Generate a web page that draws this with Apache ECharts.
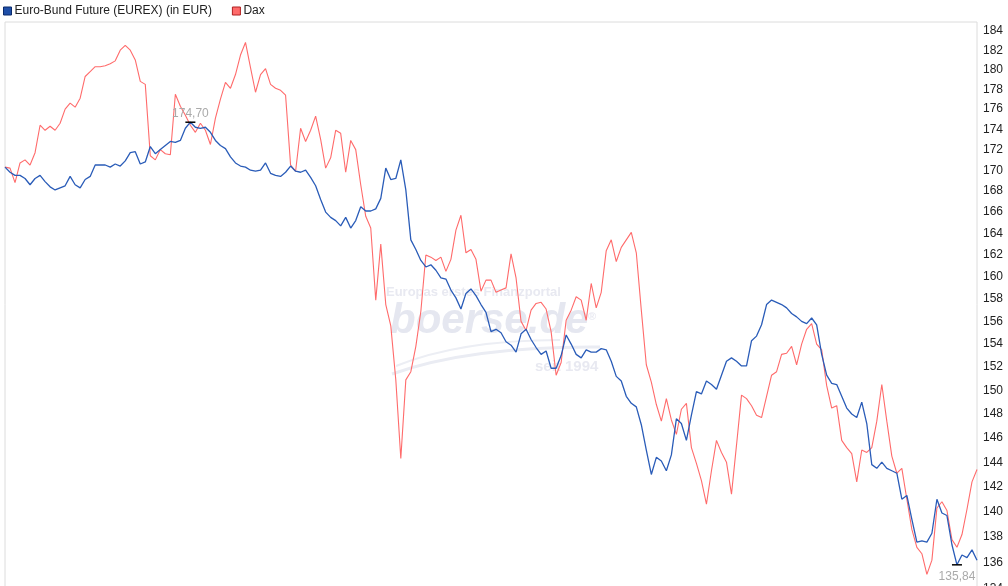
<!DOCTYPE html>
<html><head><meta charset="utf-8">
<script src="https://cdn.jsdelivr.net/npm/echarts@6/dist/echarts.min.js"></script>
<style>html,body{margin:0;padding:0;background:#fff}#c{width:1008px;height:586px}</style>
</head><body><div id="c"></div>
<script>
const bundValues = [
170.3,169.8,169.5,169.5,169.2,168.6,169.2,169.5,168.9,168.4,
168.1,168.3,168.5,169.4,168.6,168.3,169.1,169.4,170.5,170.5,
170.5,170.3,170.6,170.4,170.9,171.7,171.8,170.6,170.8,172.3,
171.6,172.0,172.4,172.8,172.7,172.9,174.1,174.70,174.2,174.1,
174.2,173.7,172.9,172.4,172.1,171.3,170.7,170.4,170.3,170.0,
169.9,170.0,170.7,169.7,169.5,169.4,169.8,170.4,169.9,169.8,
170.0,169.3,168.5,167.2,166.0,165.5,165.2,164.7,165.5,164.5,
165.2,166.5,166.1,166.1,166.3,167.3,170.2,169.1,169.2,171.0,
168.1,163.4,162.5,161.5,160.9,161.1,160.6,159.9,159.8,158.8,
158.1,157.1,158.5,158.9,158.3,157.5,156.8,155.1,155.3,155.0,
154.2,153.9,153.3,154.9,155.3,154.4,153.7,153.1,153.4,151.9,
151.9,153.0,154.8,154.0,153.1,152.8,153.5,153.3,153.3,153.6,
153.5,152.5,151.2,150.8,149.5,148.9,148.6,147.1,145.0,143.0,
144.4,144.1,143.3,144.6,147.6,147.2,145.8,147.9,149.9,149.7,
150.8,150.5,150.1,151.3,152.5,152.8,152.5,152.1,152.1,154.3,
154.7,155.7,157.5,157.9,157.7,157.5,157.2,156.7,156.4,156.0,
155.8,156.3,155.7,153.1,151.3,150.6,150.5,149.5,148.5,148.0,
147.7,149.0,147.2,143.8,143.5,144.0,143.5,143.3,143.1,141.0,
141.3,139.4,137.6,137.7,137.6,138.3,141.0,139.9,139.7,137.4,
135.84,136.6,136.4,137.0,136.2
];
const daxValues = [
170.3,170.2,168.8,170.7,171.0,170.5,171.7,174.4,173.9,174.3,
173.9,174.6,176.0,176.6,176.2,177.1,179.3,179.8,180.3,180.3,
180.4,180.6,180.9,182.0,182.5,182.0,181.0,178.8,178.5,171.4,
171.0,172.0,171.6,171.5,177.5,176.3,175.4,174.4,173.7,174.6,
173.9,172.5,175.1,177.0,178.7,178.1,179.5,181.5,182.8,180.2,
177.7,179.5,180.1,178.5,178.1,177.9,177.4,170.5,169.9,174.1,
172.8,173.9,175.3,173.0,170.2,171.2,173.9,173.6,169.8,172.9,
172.0,168.6,165.6,164.5,157.9,163.0,157.5,155.6,150.9,144.3,
150.9,151.6,153.8,156.9,162.0,161.8,161.5,161.8,160.5,161.6,
164.3,165.7,162.2,162.5,161.6,158.7,159.7,159.7,158.6,158.8,
159.0,162.1,159.9,156.0,155.2,157.0,157.6,157.7,157.1,155.1,
151.3,152.4,156.1,157.0,158.2,157.9,156.1,159.4,157.2,158.6,
162.4,163.4,161.4,162.7,163.4,164.1,162.2,157.0,152.2,150.7,
148.8,147.4,149.3,147.5,146.3,148.4,148.9,145.2,143.9,142.5,
140.6,143.3,145.8,144.8,144.0,141.4,145.4,149.6,149.3,148.7,
147.9,147.7,149.5,151.3,151.6,153.1,153.2,153.8,152.2,154.0,
155.3,155.8,154.0,153.5,150.4,148.5,148.7,145.8,145.2,144.7,
142.4,145.0,144.8,145.2,147.4,150.5,147.4,144.5,143.1,143.5,
141.0,138.6,137.2,136.7,135.1,136.2,140.3,140.8,140.1,137.8,
137.2,138.2,140.2,142.4,143.4
];
const yTickValues = [134,136,138,140,142,144,146,148,150,152,154,156,158,160,162,164,166,168,170,172,174,176,178,180,182,184];
const seriesNames = ['Euro-Bund Future (EUREX) (in EUR)', 'Dax'];
const days = bundValues.map((_, i) => String(i + 1));

const FONT = '"Liberation Sans", Arial, sans-serif';
const chart = echarts.init(document.getElementById('c'), null, {renderer: 'canvas'});
chart.setOption({
  animation: false,
  backgroundColor: '#ffffff',
  textStyle: {fontFamily: FONT},
  legend: {
    left: 3, top: 5, padding: 0,
    itemWidth: 8, itemHeight: 8, itemGap: 20,
    icon: 'rect',
    textStyle: {color: '#222', fontSize: 12, fontFamily: FONT, padding: [0, 0, 0, -2]},
    data: [
      {name: seriesNames[0], itemStyle: {borderColor: '#0b2a6b', borderWidth: 1}},
      {name: seriesNames[1], itemStyle: {borderColor: '#b02020', borderWidth: 1}}
    ]
  },
  grid: {
    left: 5, right: 31, top: 22, height: 580,
    outerBoundsMode: 'none', containLabel: false,
    show: true, borderColor: '#dcdcdc', borderWidth: 1, backgroundColor: '#fff'
  },
  xAxis: {
    type: 'category', data: days, boundaryGap: false, show: false
  },
  yAxis: {
    type: 'log', logBase: 10, min: 133, max: 184.94, position: 'right',
    axisLine: {show: false}, axisTick: {show: false}, splitLine: {show: false},
    axisLabel: {
      customValues: yTickValues, margin: 6, color: '#222', fontSize: 12, fontFamily: FONT,
      formatter: v => String(Math.round(v))
    }
  },
  graphic: [
    {type: 'text', z: 1, left: 386, top: 286, silent: true,
      style: {text: 'Europas erstes Finanzportal', font: 'bold 13px ' + FONT, fill: '#e8e9f1'}},
    {type: 'text', z: 1, left: 390, top: 300, silent: true,
      style: {text: 'boerse.de', font: 'italic bold 42px ' + FONT, fill: '#e5e7f0'}},
    {type: 'text', z: 1, left: 588, top: 311, silent: true,
      style: {text: '\u00ae', font: 'bold 11px ' + FONT, fill: '#e8e9f1'}},
    {type: 'text', z: 1, left: 535, top: 359, silent: true,
      style: {text: 'seit 1994', font: 'bold 15px ' + FONT, fill: '#e8e9f1'}},
    {type: 'bezierCurve', z: 1, silent: true,
      shape: {x1: 392, y1: 374, x2: 600, y2: 347, cpx1: 470, cpy1: 346},
      style: {stroke: '#eaecf3', lineWidth: 3, fill: null}},
    {type: 'bezierCurve', z: 1, silent: true,
      shape: {x1: 396, y1: 366, x2: 560, y2: 340, cpx1: 460, cpy1: 340},
      style: {stroke: '#eceef4', lineWidth: 2, fill: null}}
  ],
  series: [
    {
      name: seriesNames[1], type: 'line', data: daxValues, z: 2,
      showSymbol: false, symbol: 'none',
      lineStyle: {color: '#ff6b6b', width: 1.1}, itemStyle: {color: '#ff6b6b'}
    },
    {
      name: seriesNames[0], type: 'line', data: bundValues, z: 3,
      showSymbol: false, symbol: 'none',
      lineStyle: {color: '#2a5cb8', width: 1.3}, itemStyle: {color: '#1f4fa8'},
      markPoint: {
        symbol: 'rect', symbolSize: [10, 1.5],
        itemStyle: {color: '#000'},
        label: {
          show: true, color: '#aaaaaa', fontSize: 12, fontFamily: FONT,
          formatter: p => Number(p.value).toFixed(2).replace('.', ',')
        },
        data: [
          {type: 'max', label: {position: 'top', distance: 2}},
          {type: 'min', label: {position: 'bottom', distance: 5}}
        ]
      }
    }
  ]
});
</script>
</body></html>
